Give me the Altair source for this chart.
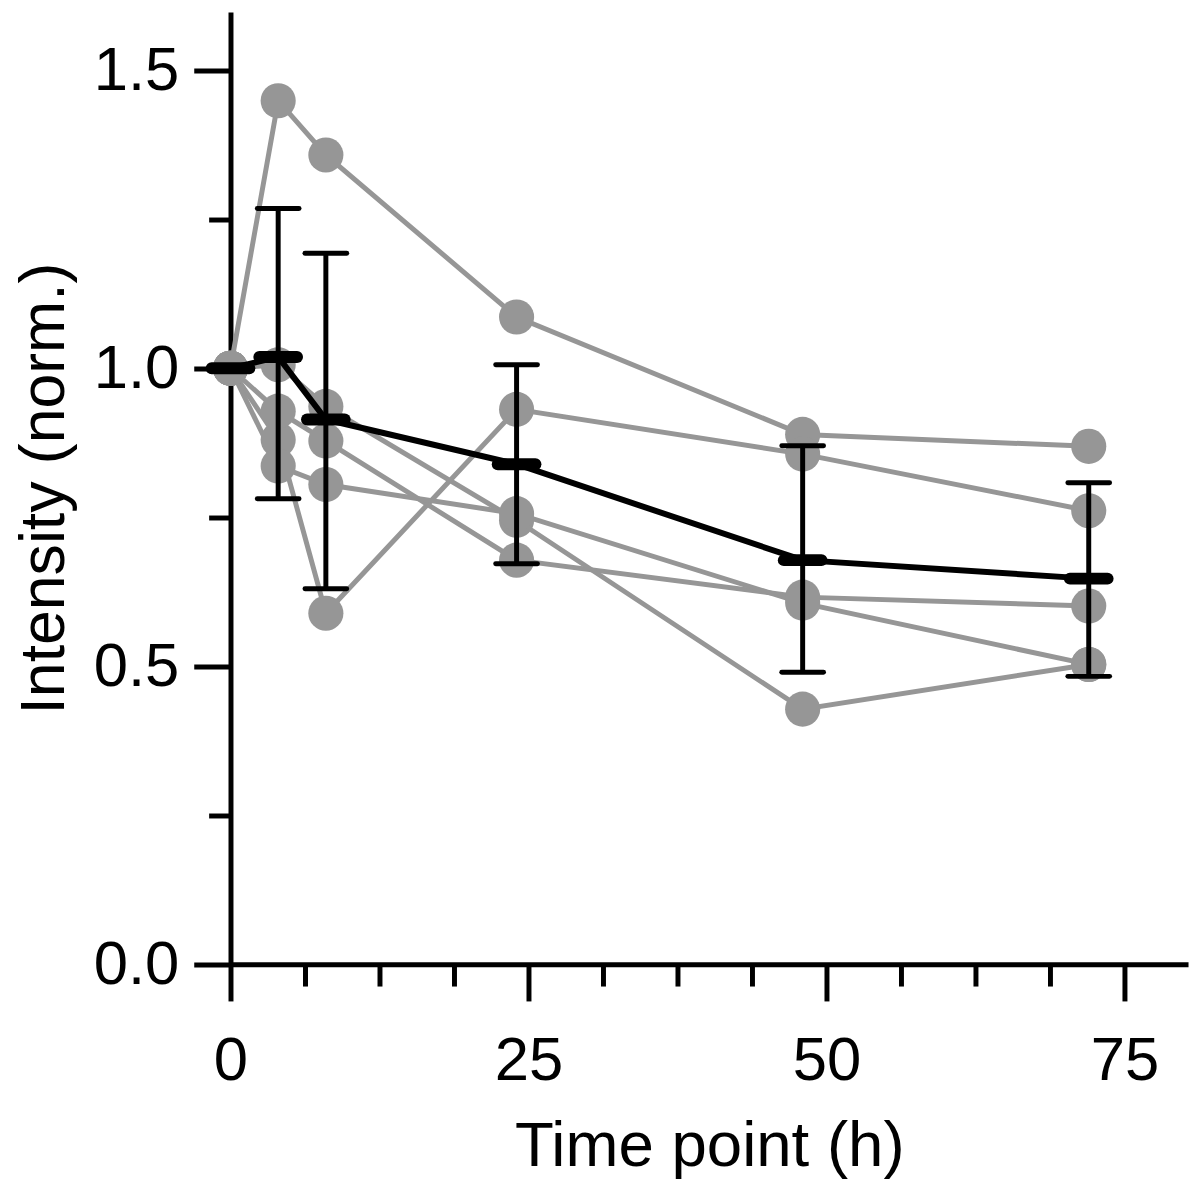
import altair as alt
import pandas as pd

# ---- data ----
times = [0, 4, 8, 24, 48, 72]
series_a = [1.0, 1.449, 1.358, 1.086, 0.889, 0.869]
series_b = [1.0, 0.880, 0.589, 0.931, 0.856, 0.761]
series_c = [1.0, 0.928, 0.878, 0.678, 0.616, 0.601]
series_d = [1.0, 1.006, 0.936, 0.745, 0.428, 0.503]
series_e = [1.0, 0.836, 0.805, 0.756, 0.606, 0.503]
mean_vals = [1.0, 1.019, 0.914, 0.839, 0.678, 0.647]
err_hi = [1.0, 1.268, 1.193, 1.006, 0.870, 0.808]
err_lo = [1.0, 0.781, 0.630, 0.672, 0.490, 0.483]

x_major = [0, 25, 50, 75]
x_minor = [6.25, 12.5, 18.75, 31.25, 37.5, 43.75, 56.25, 62.5, 68.75]
y_major = [0.0, 0.5, 1.0, 1.5]
y_minor = [0.25, 0.75, 1.25]

GRAY = "#969696"
FONT = "Liberation Sans"

rows = []
for name, vals in [("A", series_a), ("B", series_b), ("C", series_c),
                   ("D", series_d), ("E", series_e)]:
    for t, v in zip(times, vals):
        rows.append({"t": t, "v": v, "s": name})
df = pd.DataFrame(rows)
dm = pd.DataFrame({"t": times, "mean": mean_vals, "hi": err_hi, "lo": err_lo})

xscale = alt.Scale(domain=[0, 80.33], nice=False, zero=False)
yscale = alt.Scale(domain=[0, 1.598], nice=False, zero=False)

major_x_axis = alt.Axis(values=x_major, tickSize=37, tickWidth=5, tickColor="black",
                        domainWidth=5, domainColor="black", grid=False,
                        labelFontSize=62, labelFont=FONT, labelColor="black",
                        labelPadding=30, titleFontSize=64, titleFont=FONT,
                        titleFontWeight="normal", titleColor="black", titlePadding=24,
                        orient="bottom", labelFlush=False, format="d")
minor_x_axis = alt.Axis(values=x_minor, tickSize=22, tickWidth=5, tickColor="black",
                        domain=False, labels=False, grid=False, title=None,
                        orient="bottom")
major_y_axis = alt.Axis(values=y_major, tickSize=37, tickWidth=5, tickColor="black",
                        domainWidth=5, domainColor="black", grid=False,
                        labelFontSize=62, labelFont=FONT, labelColor="black",
                        labelPadding=15, titleFontSize=63, titleFont=FONT,
                        titleFontWeight="normal", titleColor="black", titlePadding=17,
                        orient="left", format=".1f", labelFlush=False)
minor_y_axis = alt.Axis(values=y_minor, tickSize=22, tickWidth=5, tickColor="black",
                        domain=False, labels=False, grid=False, title=None,
                        orient="left")

gray_lines = alt.Chart(df).mark_line(color=GRAY, strokeWidth=5).encode(
    x=alt.X("t:Q", scale=xscale, axis=major_x_axis, title="Time point (h)"),
    y=alt.Y("v:Q", scale=yscale, axis=major_y_axis, title="Intensity (norm.)"),
    detail="s:N",
)
gray_pts = alt.Chart(df).mark_circle(color=GRAY, size=1250, opacity=1).encode(
    x=alt.X("t:Q", scale=xscale, axis=minor_x_axis),
    y=alt.Y("v:Q", scale=yscale, axis=minor_y_axis),
)

dm_chart = alt.Chart(dm)
err_base = dm_chart.transform_filter("datum.t > 0")
err_bars = err_base.mark_rule(color="black", strokeWidth=5).encode(
    x=alt.X("t:Q", scale=xscale, axis=None),
    y=alt.Y("lo:Q", scale=yscale, axis=None),
    y2="hi:Q",
)
cap_hi = err_base.mark_rule(color="black", strokeWidth=5, strokeCap="round",
                            xOffset=-21, x2Offset=21).encode(
    x=alt.X("t:Q", scale=xscale, axis=None), x2="t:Q",
    y=alt.Y("hi:Q", scale=yscale, axis=None),
)
cap_lo = err_base.mark_rule(color="black", strokeWidth=5, strokeCap="round",
                            xOffset=-21, x2Offset=21).encode(
    x=alt.X("t:Q", scale=xscale, axis=None), x2="t:Q",
    y=alt.Y("lo:Q", scale=yscale, axis=None),
)
mean_line = dm_chart.mark_line(color="black", strokeWidth=6).encode(
    x=alt.X("t:Q", scale=xscale, axis=None),
    y=alt.Y("mean:Q", scale=yscale, axis=None),
)
mean_marks = dm_chart.mark_rule(color="black", strokeWidth=12, strokeCap="round",
                                xOffset=-19, x2Offset=19).encode(
    x=alt.X("t:Q", scale=xscale, axis=None), x2="t:Q",
    y=alt.Y("mean:Q", scale=yscale, axis=None),
)

chart = alt.layer(
    gray_lines, gray_pts, err_bars, cap_hi, cap_lo, mean_line, mean_marks
).resolve_axis(x="independent", y="independent").properties(
    width=964, height=958.7,
    autosize=alt.AutoSizeParams(type="none"),
    padding={"left": 224, "top": 0, "right": 4, "bottom": 212},
).configure_view(stroke=None)

chart.save("out.html", embed_options={"renderer": "svg", "actions": False})
